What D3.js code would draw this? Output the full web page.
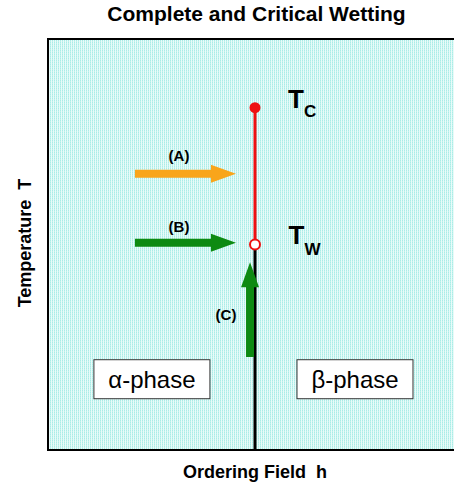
<!DOCTYPE html>
<html>
<head>
<meta charset="utf-8">
<script src="https://cdn.jsdelivr.net/npm/d3@7"></script>
<style>
html,body{margin:0;padding:0;background:#fff;}
text{font-family:"Liberation Sans",Arial,Helvetica,sans-serif;white-space:pre;}
</style>
</head>
<body>
<svg id="chart" width="454" height="486"></svg>
<script>
// ---- data (h = ordering field, T = temperature, normalised units) ----
const title = "Complete and Critical Wetting";
const xLabel = "Ordering Field  h";
const yLabel = "Temperature  T";
const hDomain = [-1, 1];
const tDomain = [0, 1];
const Tw = 0.50;   // wetting temperature
const Tc = 0.833;  // critical temperature
// coexistence line h = 0 : first-order part below Tw, critical wetting line Tw..Tc
const coexSegments = [
  {name: "black", h: 0, t0: 0, t1: Tw},
  {name: "red",   h: 0, t0: Tw, t1: Tc}
];
const criticalPoints = [
  {name: "Tc", h: 0, t: Tc, open: false, main: "T", sub: "C", lh: 0.16, lt: 0.833, subDx: 0, subDy: 9.5},
  {name: "Tw", h: 0, t: Tw, open: true,  main: "T", sub: "W", lh: 0.162, lt: 0.502, subDx: 0, subDy: 11}
];
const arrows = [
  {label: "(A)", h0: -0.58, t0: 0.672, h1: -0.092, t1: 0.672, col: "orange", lh: -0.367, lt: 0.703},
  {label: "(B)", h0: -0.58, t0: 0.504, h1: -0.092, t1: 0.504, col: "green",  lh: -0.367, lt: 0.530},
  {label: "(C)", h0: -0.024, t0: 0.226, h1: -0.024, t1: 0.457, col: "green", lh: -0.14, lt: 0.316}
];
const phases = [
  {label: "α-phase", h: -0.498, t: 0.171},
  {label: "β-phase", h: 0.483,  t: 0.171}
];

// ---- drawing ----
const colors = {orange: "#f9a51b", green: "#0e8a12", red: "#ee1111", black: "#000"};
const svg = d3.select("#chart");
const mLeft = 48, mTop = 39, mBottom = 450, mRight = 462;
const x = d3.scaleLinear().domain(hDomain).range([mLeft, mRight]);
const y = d3.scaleLinear().domain(tDomain).range([mBottom, mTop]);

// dotted cyan background pattern
const defs = svg.append("defs");
const pat = defs.append("pattern").attr("id", "dots")
  .attr("width", 2).attr("height", 2).attr("patternUnits", "userSpaceOnUse");
pat.append("rect").attr("width", 2).attr("height", 2).attr("fill", "#e8fbf9");
pat.append("rect").attr("width", 1).attr("height", 2).attr("fill", "#c2f2ed");
pat.append("rect").attr("width", 1).attr("height", 1).attr("fill", "#aaede7");

svg.append("rect").attr("x", mLeft).attr("y", mTop)
  .attr("width", 454 - mLeft).attr("height", mBottom - mTop)
  .attr("fill", "url(#dots)");

// frame
svg.append("path")
  .attr("d", `M454,${mTop}H${mLeft}V${mBottom}H454`)
  .attr("fill", "none").attr("stroke", "#000").attr("stroke-width", 2);

// coexistence line
svg.selectAll("line.coex").data(coexSegments).join("line")
  .attr("class", "coex")
  .attr("x1", d => x(d.h)).attr("x2", d => x(d.h))
  .attr("y1", d => y(d.t0)).attr("y2", d => y(d.t1))
  .attr("stroke", d => colors[d.name]).attr("stroke-width", 3);

// arrows
function arrowPath(d) {
  const x0 = x(d.h0), y0 = y(d.t0), x1 = x(d.h1), y1 = y(d.t1);
  const len = Math.hypot(x1 - x0, y1 - y0);
  const ang = Math.atan2(y1 - y0, x1 - x0) * 180 / Math.PI;
  const hl = 25, hw = 9, sw = 4;
  const p = `M0,${-sw}H${len - hl}V${-hw}L${len},0L${len - hl},${hw}V${sw}H0Z`;
  return {p, t: `translate(${x0},${y0}) rotate(${ang})`};
}
svg.selectAll("path.arrow").data(arrows).join("path")
  .attr("class", "arrow")
  .attr("d", d => arrowPath(d).p)
  .attr("transform", d => arrowPath(d).t)
  .attr("fill", d => colors[d.col]);

svg.selectAll("text.alabel").data(arrows).join("text")
  .attr("class", "alabel")
  .attr("x", d => x(d.lh)).attr("y", d => y(d.lt))
  .attr("text-anchor", "middle")
  .attr("font-size", 15).attr("font-weight", "bold")
  .text(d => d.label);

// critical points
svg.selectAll("circle.cp").data(criticalPoints).join("circle")
  .attr("class", "cp")
  .attr("cx", d => x(d.h)).attr("cy", d => y(d.t))
  .attr("r", d => d.open ? 5 : 5.5)
  .attr("fill", d => d.open ? "#fff" : colors.red)
  .attr("stroke", colors.red).attr("stroke-width", d => d.open ? 2 : 0);

const cpt = svg.selectAll("text.cpT").data(criticalPoints).join("text")
  .attr("class", "cpT")
  .attr("x", d => x(d.lh)).attr("y", d => y(d.lt))
  .attr("font-weight", "bold");
cpt.append("tspan").attr("font-size", 26).text(d => d.main);
cpt.append("tspan").attr("font-size", 17)
  .attr("dx", d => d.subDx).attr("dy", d => d.subDy)
  .text(d => d.sub);

// phase boxes
const pg = svg.selectAll("g.phase").data(phases).join("g")
  .attr("class", "phase")
  .attr("transform", d => `translate(${x(d.h)},${y(d.t)})`);
pg.append("rect")
  .attr("x", -58).attr("y", -20).attr("width", 116).attr("height", 39)
  .attr("fill", "#fff").attr("stroke", "#333").attr("stroke-width", 1);
pg.append("text")
  .attr("text-anchor", "middle").attr("y", 8.5)
  .attr("font-size", 24)
  .text(d => d.label);

// title and axis labels
svg.append("text").attr("x", 256.5).attr("y", 21)
  .attr("text-anchor", "middle").attr("font-size", 21).attr("font-weight", "bold")
  .text(title);
svg.append("text").attr("x", x(0)).attr("y", 478)
  .attr("text-anchor", "middle").attr("font-size", 18).attr("font-weight", "bold")
  .text(xLabel);
svg.append("text")
  .attr("transform", `translate(31,${243}) rotate(-90)`)
  .attr("text-anchor", "middle").attr("font-size", 18).attr("font-weight", "bold")
  .text(yLabel);
</script>
</body>
</html>
